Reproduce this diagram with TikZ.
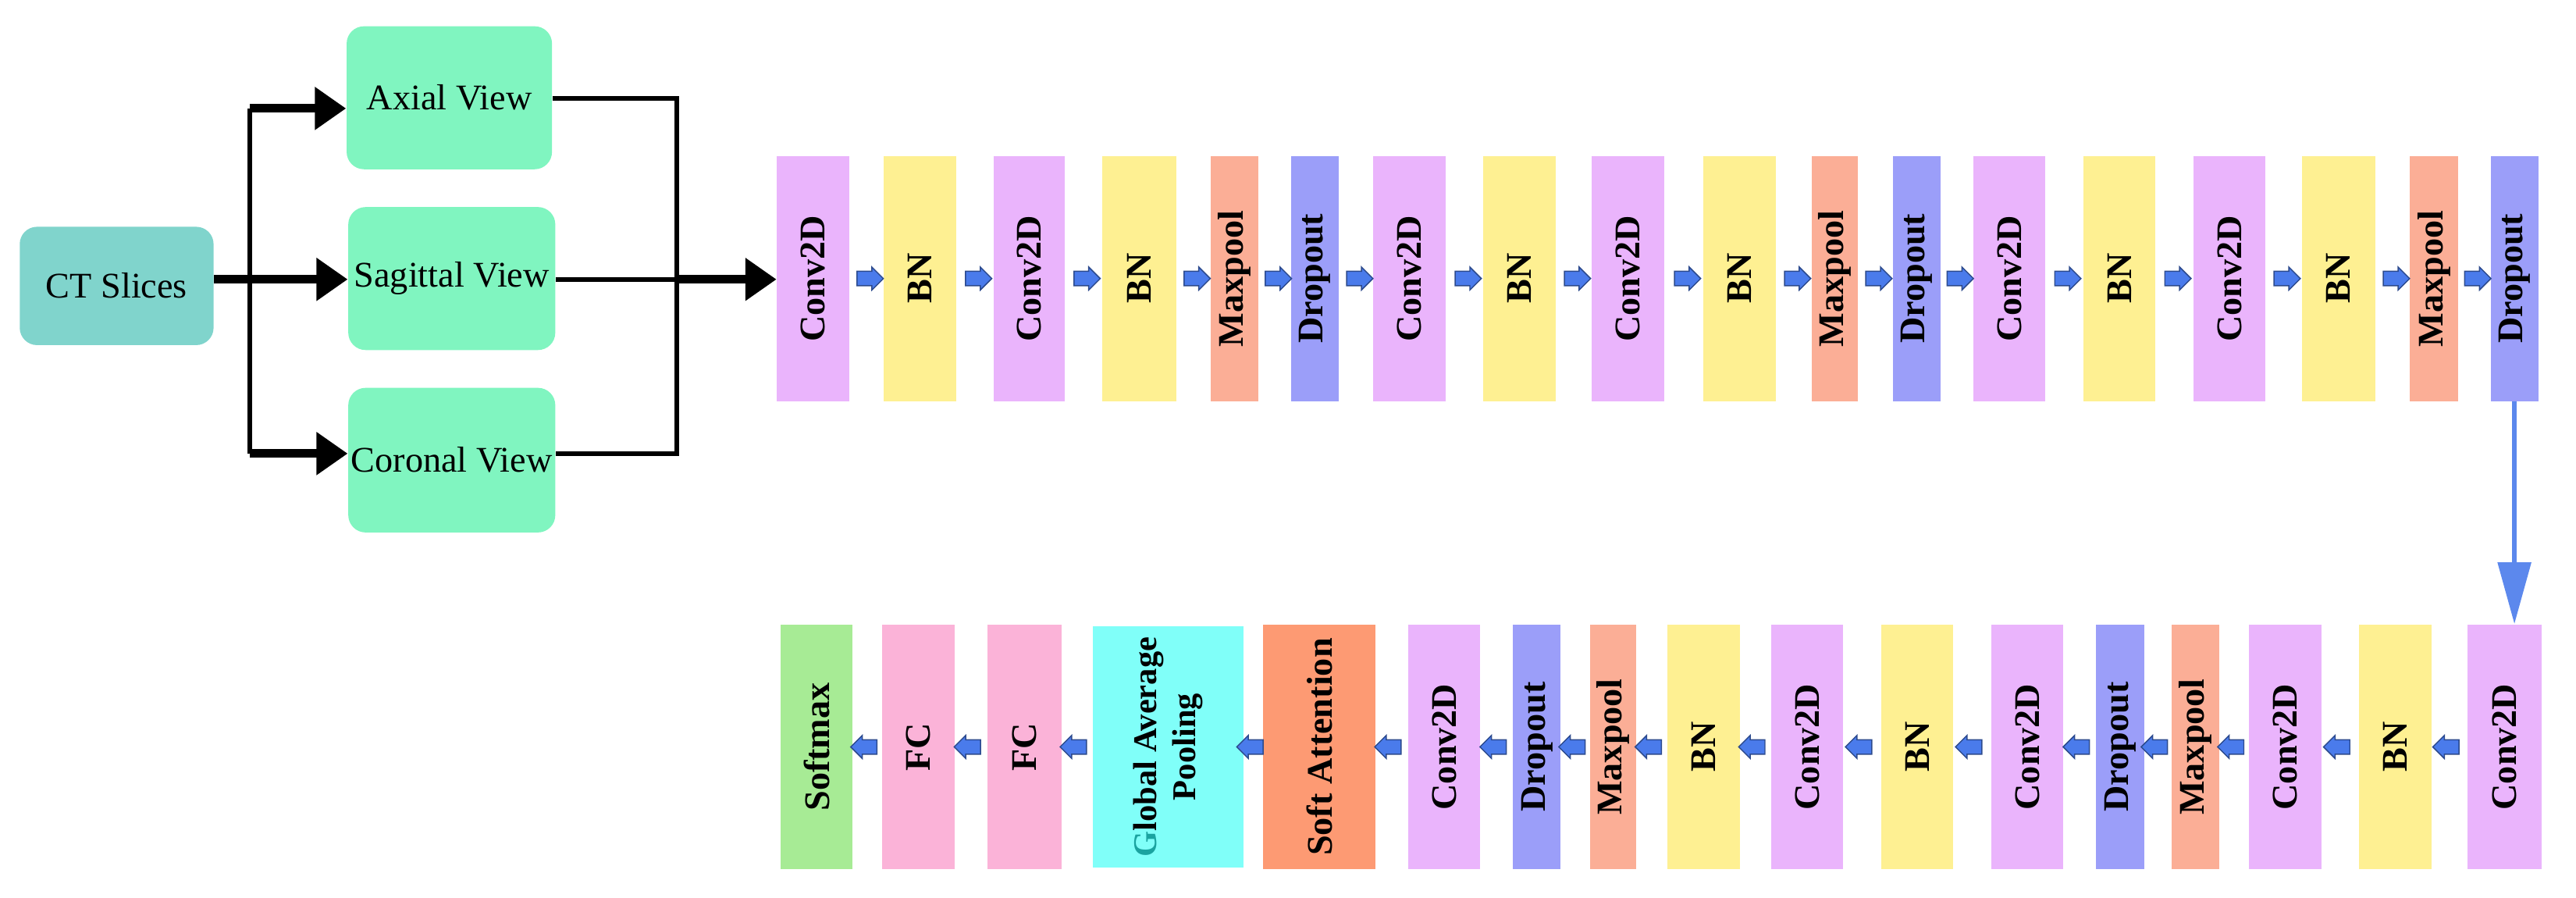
\documentclass[tikz,border=0pt]{standalone}
\usepackage{fontspec}
\setmainfont{Liberation Serif}
\usetikzlibrary{fit,shapes.arrows,arrows.meta,calc}
\definecolor{cconv}{HTML}{EAB4FC}
\definecolor{cbn}{HTML}{FEF092}
\definecolor{cmax}{HTML}{FBAE96}
\definecolor{cdrop}{HTML}{9B9EF9}
\definecolor{csa}{HTML}{FD9A73}
\definecolor{cgap}{HTML}{80FFF9}
\definecolor{cfc}{HTML}{FBB3D8}
\definecolor{csm}{HTML}{A7EB95}
\definecolor{cview}{HTML}{80F5C0}
\definecolor{cct}{HTML}{80D4CC}
\definecolor{cblue}{HTML}{4A7BEB}
\definecolor{cteal}{HTML}{1AA3A0}
\begin{document}
\begin{tikzpicture}[x=0.02cm,y=-0.02cm,
  blk/.style={inner sep=0pt,draw=none},
  lbl/.style={font=\fontsize{12.5}{14}\selectfont\bfseries},
  view/.style={rounded corners=6pt,inner sep=0pt},
  barrow/.style={single arrow,fill=cblue,draw=cblue!60!black,line width=0.4pt,minimum height=0.32cm,minimum width=0.28cm,single arrow head extend=0.05cm,inner xsep=0pt,inner ysep=2.2pt,text height=0pt,text depth=0pt},
  big/.style={line width=3pt,-{Triangle[length=0.38cm,width=0.5cm]}},
  thin/.style={line width=1.5pt}]
\useasboundingbox (0,0) rectangle (1568,546);
% left part
\node[view,fill=cct,fit={(12,138)(130,210)},label=center:{\fontsize{12.5}{14}\selectfont CT Slices}] (ct) {};
\node[view,fill=cview,fit={(211,16)(336,103)},label=center:{\fontsize{12.5}{14}\selectfont Axial View}] (ax) {};
\node[view,fill=cview,fit={(212,126)(338,213)},label=center:{\fontsize{12.5}{14}\selectfont Sagittal View}] (sg) {};
\node[view,fill=cview,fit={(212,236)(338,324)},label=center:{\fontsize{12.5}{14}\selectfont Coronal View}] (co) {};
\coordinate (lt) at (152,66);
\coordinate (lb) at (152,276);
\draw[thin] (lt) -- (lb);
\draw[big] (lt) -- (ax.west|-lt);
\draw[big] (ct.east|-0,170) -- (sg.west|-0,170);
\draw[big] (lb) -- (co.west|-lb);
\coordinate (rt) at (412,60);
\coordinate (rb) at (412,276);
\draw[thin] (ax.east|-rt) -- (rt) -- (rb) -- (co.east|-rb);
\draw[thin] (sg.east|-0,170) -- (412,170);
% top row
\foreach \i/\a/\b/\c/\t in {1/473/517/cconv/Conv2D,2/538/582/cbn/BN,3/605/648/cconv/Conv2D,4/671/716/cbn/BN,5/737/766/cmax/Maxpool,6/786/815/cdrop/Dropout,7/836/880/cconv/Conv2D,8/903/947/cbn/BN,9/969/1013/cconv/Conv2D,10/1037/1081/cbn/BN,11/1103/1131/cmax/Maxpool,12/1152/1181/cdrop/Dropout,13/1201/1245/cconv/Conv2D,14/1268/1312/cbn/BN,15/1335/1379/cconv/Conv2D,16/1401/1446/cbn/BN,17/1467/1496/cmax/Maxpool,18/1516/1545/cdrop/Dropout}
  \node[blk,fill=\c,fit={(\a,95)(\b,244)},label={[lbl]center:\rotatebox{90}{\t}}] (t\i) {};
\draw[big] (412,170) -- (t1.west|-0,170);
\foreach \i [count=\j from 2] in {1,...,17}
  \node[barrow] at ($(t\i.east)!0.5!(t\j.west)$) {};
% bottom row
\foreach \i/\a/\b/\c/\t in {1/1502/1547/cconv/Conv2D,2/1436/1480/cbn/BN,3/1369/1413/cconv/Conv2D,4/1322/1351/cmax/Maxpool,5/1276/1305/cdrop/Dropout,6/1212/1256/cconv/Conv2D,7/1145/1189/cbn/BN,8/1078/1122/cconv/Conv2D,9/1015/1059/cbn/BN,10/968/996/cmax/Maxpool,11/921/950/cdrop/Dropout,12/857/901/cconv/Conv2D,13/769/837/csa/Soft Attention,15/601/646/cfc/FC,16/537/581/cfc/FC,17/475/519/csm/Softmax}
  \node[blk,fill=\c,fit={(\a,380)(\b,529)},label={[lbl]center:\rotatebox{90}{\t}}] (b\i) {};
\node[blk,fill=cgap,fit={(665,381)(757,528)},label={[font=\fontsize{11.5}{13.5}\selectfont\bfseries]center:\rotatebox{90}{\begin{tabular}{@{}c@{}}\textcolor{cteal}{G}lobal Average\\Pooling\end{tabular}}}] (b14) {};
\foreach \i [count=\j from 2] in {1,...,16}
  \node[barrow,shape border rotate=180] at ($(b\i.west)!0.5!(b\j.east)$) {};
\draw[cblue!90,line width=1.5pt,-{Triangle[length=0.75cm,width=0.4cm]}] (t18.south) -- (t18.south|-b1.north);
\end{tikzpicture}
\end{document}
